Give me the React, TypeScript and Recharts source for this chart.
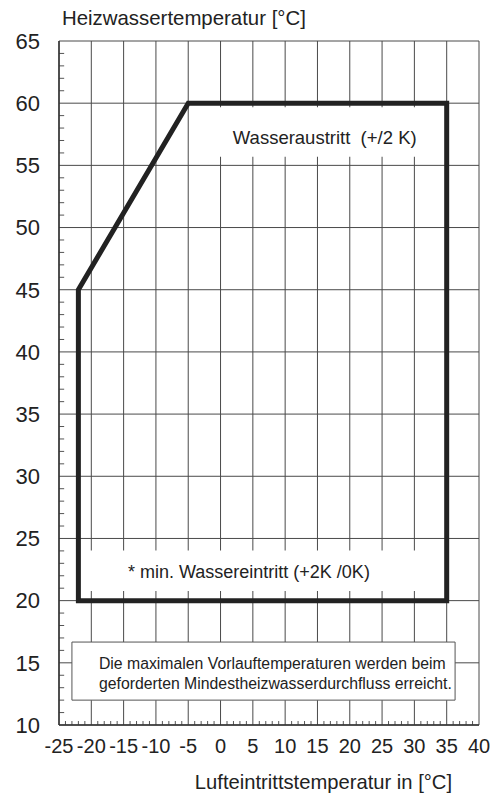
import { ComposedChart, Line, XAxis, YAxis, CartesianGrid, ReferenceArea, ReferenceLine, Label } from 'recharts'

const xTicks = [-25, -20, -15, -10, -5, 0, 5, 10, 15, 20, 25, 30, 35, 40]
const yTicks = [10, 15, 20, 25, 30, 35, 40, 45, 50, 55, 60, 65]

// Einsatzgrenze (Lufteintritt / Heizwasser)
const boundaryX = [-22, -22, -5, 35, 35, -22]
const boundaryY = [20, 45, 60, 60, 20, 20]

const boundary = boundaryX.map((x, i) => ({ x, y: boundaryY[i] }))

// kleine Teilstriche an den Achsen, jedes Grad
const xMinor = Array.from({ length: 65 }, (_, i) => -25 + i).filter(v => v % 5 !== 0)
const yMinor = Array.from({ length: 55 }, (_, i) => 10 + i).filter(v => v % 5 !== 0)

const font = '"Liberation Sans", Arial, sans-serif'
const ink = '#222'

export default function App() {
  return (
    <div style={{ position: 'absolute', left: 0, top: 0, width: 498, height: 798, background: '#fff' }}>
      <ComposedChart width={498} height={798} margin={{ top: 41, right: 19, left: 0, bottom: 0 }}>
        <CartesianGrid stroke="#4a4a4a" strokeWidth={1} />
        <XAxis
          type="number"
          dataKey="x"
          domain={[-25, 40]}
          ticks={xTicks}
          interval={0}
          allowDataOverflow
          height={73}
          tickLine={false}
          tickSize={0}
          tickMargin={14}
          axisLine={{ stroke: '#333', strokeWidth: 1.5 }}
          tick={{ fontSize: 20, fill: ink, fontFamily: font }}
        />
        <YAxis
          type="number"
          domain={[10, 65]}
          ticks={yTicks}
          interval={0}
          allowDataOverflow
          width={59}
          tickLine={false}
          tickSize={0}
          tickMargin={19}
          axisLine={{ stroke: '#333', strokeWidth: 1.5 }}
          tick={{ fontSize: 22, fill: ink, fontFamily: font }}
        />

        {xMinor.map(v => (
          <ReferenceLine key={'xm' + v} segment={[{ x: v, y: 10 }, { x: v, y: 10.32 }]} stroke="#555" ifOverflow="visible" />
        ))}
        {yMinor.map(v => (
          <ReferenceLine key={'ym' + v} segment={[{ x: -25, y: v }, { x: -24.2, y: v }]} stroke="#555" ifOverflow="visible" />
        ))}

        <ReferenceArea x1={-4.6} x2={34.6} y1={55.7} y2={59.68} fill="#fff" fillOpacity={1} stroke="none">
          <Label
            content={({ viewBox }: any) => (
              <text x={viewBox.x + 42} y={viewBox.y + 37} fontSize={18.5} fill={ink} fontFamily={font} style={{ whiteSpace: 'pre' }}>
                Wasseraustritt  (+/2 K)
              </text>
            )}
          />
        </ReferenceArea>
        <ReferenceArea x1={-21.6} x2={34.6} y1={20.77} y2={24.04} fill="#fff" fillOpacity={1} stroke="none">
          <Label
            content={({ viewBox }: any) => (
              <text x={viewBox.x + 47} y={viewBox.y + 28} fontSize={18} fill={ink} fontFamily={font} style={{ whiteSpace: 'pre' }}>
                * min. Wassereintritt (+2K /0K)
              </text>
            )}
          />
        </ReferenceArea>
        <ReferenceArea x1={-23} x2={36.3} y1={12} y2={16.67} fill="#fff" fillOpacity={1} stroke="#555" strokeWidth={1}>
          <Label
            content={({ viewBox }: any) => (
              <text fontSize={15.8} fill={ink} fontFamily={font}>
                <tspan x={viewBox.x + 27} y={viewBox.y + 27}>Die maximalen Vorlauftemperaturen werden beim</tspan>
                <tspan x={viewBox.x + 27} y={viewBox.y + 47}>geforderten Mindestheizwasserdurchfluss erreicht.</tspan>
              </text>
            )}
          />
        </ReferenceArea>

        <Line
          data={boundary}
          dataKey="y"
          type="linear"
          stroke={ink}
          strokeWidth={5}
          strokeLinecap="square"
          strokeLinejoin="miter"
          dot={false}
          activeDot={false}
          isAnimationActive={false}
        />

        <text x={62} y={25} fontSize={20.4} fill={ink} fontFamily={font}>Heizwassertemperatur [°C]</text>
        <text x={452} y={789} textAnchor="end" fontSize={20.2} fill={ink} fontFamily={font}>Lufteintrittstemperatur in [°C]</text>
      </ComposedChart>
    </div>
  )
}
